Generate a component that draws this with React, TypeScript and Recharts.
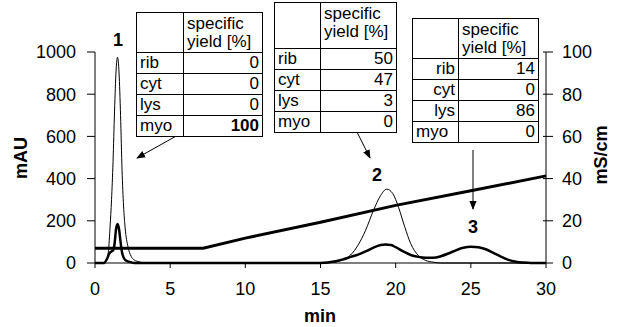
import React from 'react';
import { ComposedChart, Line, XAxis, YAxis } from 'recharts';

// thin trace (left axis, mAU)
const thinTimes = [0, 0.5, 0.75, 0.9, 1.0, 1.1, 1.2, 1.3, 1.4, 1.5, 1.6, 1.7, 1.8, 1.9, 2.0, 2.2, 2.4, 2.6, 2.8, 3.0, 3.5, 15, 16, 16.5, 17, 17.5, 18, 18.5, 19, 19.4, 19.8, 20.2, 20.6, 21, 21.5, 22, 22.5, 23, 30];
const thinValues = [0, 0, 10, 60, 170, 300, 480, 720, 910, 975, 900, 700, 440, 270, 170, 75, 32, 15, 8, 4, 0, 0, 5, 15, 38, 85, 155, 245, 320, 350, 330, 262, 172, 92, 36, 12, 4, 0, 0];

// thick trace (left axis, mAU)
const thickTimes = [0, 0.6, 0.8, 0.95, 1.1, 1.2, 1.3, 1.4, 1.5, 1.6, 1.7, 1.8, 2.0, 2.3, 2.6, 15, 16, 16.5, 17, 17.5, 18, 18.5, 19, 19.3, 19.7, 20, 20.5, 21, 21.5, 22, 22.5, 23, 23.5, 24, 24.5, 25, 25.5, 26, 26.5, 27, 27.5, 28, 28.5, 29, 30];
const thickValues = [0, 0, 20, 45, 55, 60, 90, 160, 185, 160, 100, 50, 15, 5, 0, 0, 8, 17, 29, 40, 55, 72, 85, 88, 85, 75, 55, 38, 29, 25, 25, 32, 45, 60, 72, 77, 75, 65, 48, 30, 15, 6, 2, 0, 0];

// conductivity (right axis, mS/cm)
const condTimes = [0, 7.2, 10, 15, 20, 25, 30];
const condValues = [7, 7, 11.8, 19.3, 27.3, 34.2, 41.3];

const xTicks = [0, 5, 10, 15, 20, 25, 30];
const leftTicks = [0, 200, 400, 600, 800, 1000];
const rightTicks = [0, 20, 40, 60, 80, 100];

const fractions = ['rib', 'cyt', 'lys', 'myo'];
const yields1 = [0, 0, 0, 100];
const yields2 = [50, 47, 3, 0];
const yields3 = [14, 0, 86, 0];

const toRows = (ts: number[], vs: number[]) => ts.map((t, i) => ({ t, v: vs[i] }));

const FONT = '"Liberation Sans", Arial, sans-serif';

const RightTick = (props: any) => {
  const { x, y, payload } = props;
  const ax = x - 16;
  return (
    <g>
      <line x1={ax - 3} x2={ax + 7} y1={y} y2={y} stroke="#000" />
      <text x={x} y={y} dy="0.36em" textAnchor="start" fontSize={18} fill="#000" fontFamily={FONT}>
        {payload.value}
      </text>
    </g>
  );
};

interface TableProps {
  left: number;
  top: number;
  col1: number;
  col2: number;
  header: number;
  row: number;
  values: number[];
  rightLabels?: boolean;
  boldLast?: boolean;
}

function YieldTable({ left, top, col1, col2, header, row, values, rightLabels, boldLast }: TableProps) {
  const cell: React.CSSProperties = {
    border: '1px solid #000', padding: '0 3px', lineHeight: '18px', boxSizing: 'border-box', overflow: 'visible',
  };
  return (
    <table
      style={{
        position: 'absolute', left, top, borderCollapse: 'collapse', fontFamily: FONT,
        fontSize: 17, background: '#fff', tableLayout: 'fixed', width: col1 + col2,
      }}
    >
      <colgroup>
        <col style={{ width: col1 }} />
        <col style={{ width: col2 }} />
      </colgroup>
      <tbody>
        <tr style={{ height: header }}>
          <td style={cell} />
          <td style={{ ...cell, textAlign: 'left', verticalAlign: 'top', paddingTop: 2, whiteSpace: 'nowrap' }}>
            specific<br />yield [%]
          </td>
        </tr>
        {fractions.map((f, i) => (
          <tr key={f} style={{ height: row }}>
            <td style={{ ...cell, textAlign: rightLabels && f !== 'myo' ? 'right' : 'left' }}>{f}</td>
            <td style={{ ...cell, textAlign: 'right', fontWeight: boldLast && i === 3 ? 'bold' : 'normal' }}>{values[i]}</td>
          </tr>
        ))}
      </tbody>
    </table>
  );
}

export default function App() {
  return (
    <div style={{ position: 'absolute', left: 0, top: 0, width: 618, height: 327, background: '#fff', fontFamily: FONT }}>
      <ComposedChart width={618} height={327} margin={{ top: 52, right: 0, bottom: 0, left: 0 }}>
        <XAxis
          type="number" dataKey="t" domain={[0, 30]} ticks={xTicks} height={64}
          axisLine={{ stroke: '#000' }} tickLine={{ stroke: '#000' }} tickSize={5} tickMargin={14}
          tick={{ fill: '#000', fontSize: 18, fontFamily: FONT }} allowDuplicatedCategory={false}
        />
        <YAxis
          yAxisId="left" orientation="left" domain={[0, 1000]} ticks={leftTicks} width={95}
          axisLine={{ stroke: '#000' }} tickLine={{ stroke: '#000' }} tickSize={8} tickMargin={11}
          tick={{ fill: '#000', fontSize: 18, fontFamily: FONT }}
        />
        <YAxis
          yAxisId="right" orientation="right" domain={[0, 100]} ticks={rightTicks} width={72}
          axisLine={{ stroke: '#000' }} tickLine={false} tickSize={7} tickMargin={9}
          tick={<RightTick />}
        />
        <Line
          yAxisId="right" data={toRows(condTimes, condValues)} dataKey="v" type="linear"
          stroke="#000" strokeWidth={3} dot={false} isAnimationActive={false}
        />
        <Line
          yAxisId="left" data={toRows(thickTimes, thickValues)} dataKey="v" type="monotone"
          stroke="#000" strokeWidth={2.5} dot={false} isAnimationActive={false}
        />
        <Line
          yAxisId="left" data={toRows(thinTimes, thinValues)} dataKey="v" type="monotone"
          stroke="#000" strokeWidth={1} dot={false} isAnimationActive={false}
        />
      </ComposedChart>

      <svg width={618} height={327} style={{ position: 'absolute', left: 0, top: 0, pointerEvents: 'none' }}>
        <defs>
          <marker id="head" viewBox="0 0 10 10" refX="9" refY="5" markerWidth="9" markerHeight="9" orient="auto">
            <path d="M0,1 L10,5 L0,9 z" fill="#000" />
          </marker>
        </defs>
        <line x1={203} y1={121} x2={137} y2={158} stroke="#000" strokeWidth={1} markerEnd="url(#head)" />
        <line x1={342} y1={102} x2={370} y2={158} stroke="#000" strokeWidth={1} markerEnd="url(#head)" />
        <line x1={473} y1={150} x2={473} y2={209} stroke="#000" strokeWidth={1} markerEnd="url(#head)" />
        <g fontFamily={FONT} fontWeight="bold" fontSize={18} fill="#000" textAnchor="middle">
          <text x={118} y={46}>1</text>
          <text x={377} y={181}>2</text>
          <text x={473} y={233}>3</text>
          <text x={320} y={322}>min</text>
          <text transform="translate(27,158) rotate(-90)">mAU</text>
          <text transform="translate(607,155) rotate(-90)">mS/cm</text>
        </g>
      </svg>

      <YieldTable left={136} top={12} col1={47} col2={79} header={40} row={21} values={yields1} boldLast />
      <YieldTable left={274} top={2} col1={46} col2={76} header={46} row={21} values={yields2} />
      <YieldTable left={412} top={18} col1={46} col2={80} header={40} row={21} values={yields3} rightLabels />
    </div>
  );
}
